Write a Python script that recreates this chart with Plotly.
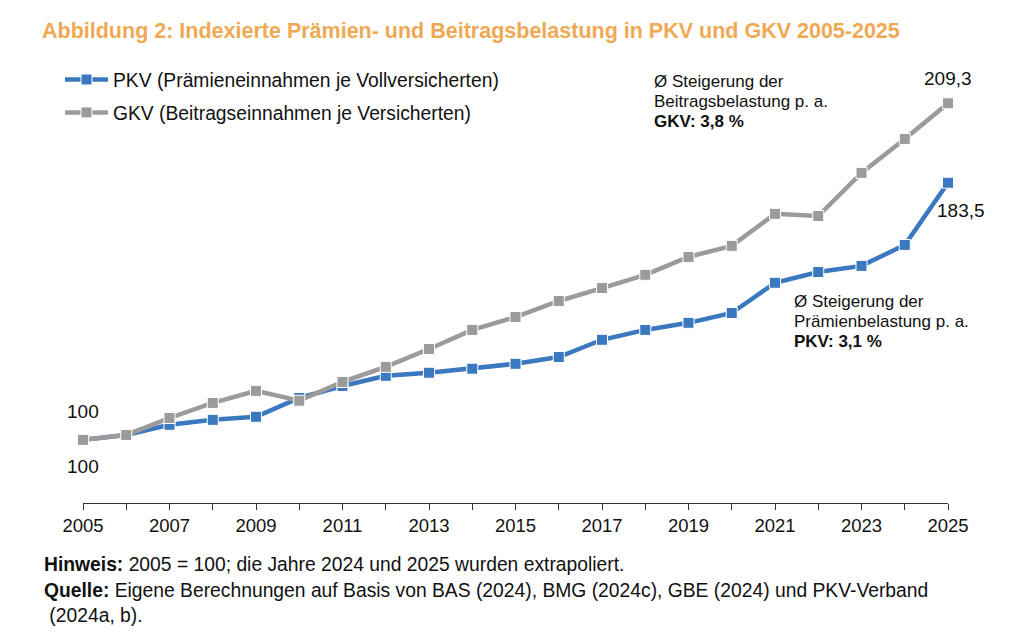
import plotly.graph_objects as go

years = list(range(2005, 2026))
pkv = [100, 101.6, 104.9, 106.5, 107.5, 113.6, 117.5, 120.8, 121.8, 123.1, 124.7,
       126.9, 132.5, 135.7, 138.0, 141.2, 151.0, 154.5, 156.5, 163.3, 183.5]
gkv = [100, 101.6, 107.1, 112.0, 115.9, 112.7, 118.8, 123.7, 129.5, 135.7, 139.9,
       145.1, 149.3, 153.6, 159.4, 163.0, 173.4, 172.7, 186.7, 197.7, 209.3]
tick_labels = [str(y) if (y - 2005) % 2 == 0 else "" for y in years]
gkv_note = ["Ø Steigerung der", "Beitragsbelastung p. a.", "<b>GKV: 3,8 %</b>"]
pkv_note = ["Ø Steigerung der", "Prämienbelastung p. a.", "<b>PKV: 3,1 %</b>"]
footnotes = ["<b>Hinweis:</b> 2005 = 100; die Jahre 2024 und 2025 wurden extrapoliert.",
             "<b>Quelle:</b> Eigene Berechnungen auf Basis von BAS (2024), BMG (2024c), GBE (2024) und PKV-Verband",
             " (2024a, b)."]

FONT = "Liberation Sans, Arial, sans-serif"
BLUE = "#3A78BF"
GRAY = "#9B9B9B"
TXT = "#111111"

fig = go.Figure()
fig.add_trace(go.Scatter(
    x=years, y=pkv, mode="lines+markers",
    name="PKV (Prämieneinnahmen je Vollversicherten)",
    line=dict(color=BLUE, width=4.5),
    marker=dict(symbol="square", size=11, color=BLUE, line=dict(color="white", width=1)),
    cliponaxis=False, legend="legend"))
fig.add_trace(go.Scatter(
    x=years, y=gkv, mode="lines+markers",
    name="GKV (Beitragseinnahmen je Versicherten)",
    line=dict(color=GRAY, width=4.5),
    marker=dict(symbol="square", size=11, color=GRAY, line=dict(color="white", width=1)),
    cliponaxis=False, legend="legend2"))

ann = []
vfont = dict(size=19, color=TXT, family=FONT)
ann.append(dict(x=2025, y=gkv[-1], xref="x", yref="y", text="209,3", showarrow=False,
                yshift=25, font=vfont))
ann.append(dict(x=2025, y=pkv[-1], xref="x", yref="y", text="183,5", showarrow=False,
                xanchor="left", xshift=-13, yshift=-28, font=vfont))
ann.append(dict(x=2005, y=gkv[0], xref="x", yref="y", text="100", showarrow=False,
                yshift=28, font=vfont))
ann.append(dict(x=2005, y=pkv[0], xref="x", yref="y", text="100", showarrow=False,
                yshift=-27, font=vfont))

nfont = dict(size=17, color=TXT, family=FONT)
for txt, yy in zip(gkv_note, [0.9734, 0.9273, 0.8811]):
    ann.append(dict(x=0.6582, y=yy, xref="paper", yref="paper", xanchor="left", yanchor="middle",
                    showarrow=False, text=txt, font=nfont))
for txt, yy in zip(pkv_note, [0.4654, 0.4192, 0.3730]):
    ann.append(dict(x=0.820, y=yy, xref="paper", yref="paper", xanchor="left", yanchor="middle",
                    showarrow=False, text=txt, font=nfont))

ffont = dict(size=19.3, color=TXT, family=FONT)
for txt, yy in zip(footnotes, [-0.143, -0.203, -0.259]):
    ann.append(dict(x=-0.0474, y=yy, xref="paper", yref="paper", xanchor="left", yanchor="middle",
                    showarrow=False, align="left", text=txt, font=ffont))

lfont = dict(size=19.3, color=TXT, family=FONT)
fig.update_layout(
    width=1016, height=632,
    paper_bgcolor="white", plot_bgcolor="white",
    margin=dict(l=75, r=76, t=62, b=137),
    title=dict(text="<b>Abbildung 2: Indexierte Prämien- und Beitragsbelastung in PKV und GKV 2005-2025</b>",
               x=34 / 1016, xref="container", xanchor="left", y=1 - 22 / 632, yref="container", yanchor="middle",
               font=dict(size=21.5, color="#F0A953", family=FONT)),
    xaxis=dict(range=[2005, 2025], tickvals=years, ticktext=tick_labels,
               showline=True, linecolor="#333333", linewidth=1.2, ticks="outside", ticklen=6,
               tickcolor="#333333", showgrid=False, zeroline=False,
               tickfont=dict(size=18.5, color=TXT, family=FONT)),
    yaxis=dict(range=[79.5, 220.1], showticklabels=False, showgrid=False, zeroline=False,
               showline=False, ticks=""),
    legend=dict(x=-0.0266, y=0.977, xanchor="left", yanchor="middle", bgcolor="rgba(0,0,0,0)",
                itemwidth=43, font=lfont),
    legend2=dict(x=-0.0266, y=0.901, xanchor="left", yanchor="middle", bgcolor="rgba(0,0,0,0)",
                 itemwidth=43, font=lfont),
    annotations=ann,
    showlegend=True,
)

fig.write_html("out.html")
